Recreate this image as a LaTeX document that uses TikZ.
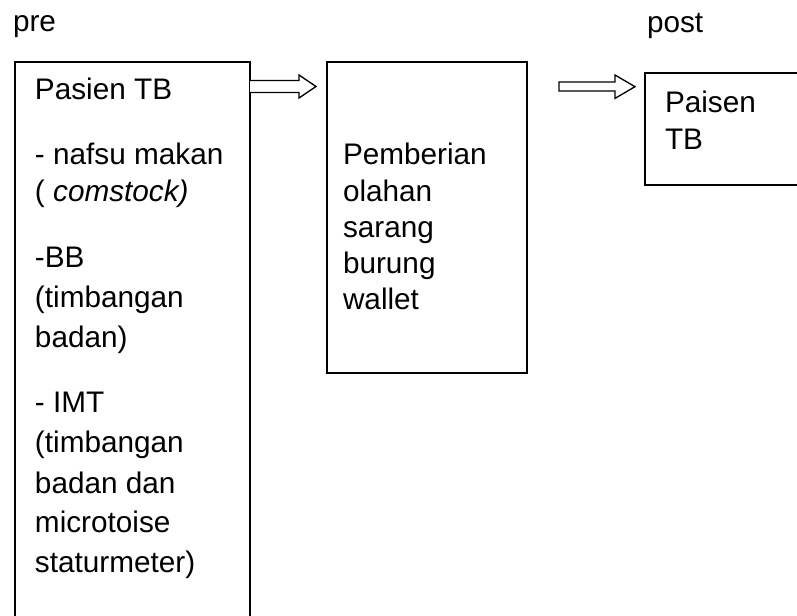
\documentclass[tikz,border=0pt]{standalone}
\usepackage{fontspec}
\setmainfont{Liberation Sans}
\begin{document}
\begin{tikzpicture}[x=0.75pt,y=-0.75pt,
  box/.style={draw, line width=1.2pt, rectangle, anchor=north west, inner sep=0, outer sep=0},
  txt/.style={anchor=base west, inner sep=0, outer sep=0, font=\fontsize{22.3}{26}\selectfont},
  arr/.style={draw, line width=1pt, fill=white, line join=miter}]
\useasboundingbox (0,0) rectangle (797,616);
\clip (0,0) rectangle (797,616);
% boxes
\node[box, minimum width=150pt, minimum height=233.25pt] (mid) at (327,62) {};
\node[box, minimum width=176.25pt, minimum height=433.5pt] (left) at (15,62) {};
\node[box, minimum width=131.25pt, minimum height=84pt] (right) at (645,73) {};
% headings
\node[txt] (pre) at (13,31.5) {pre};
\node[txt] (post) at (647,33) {post};
% left box text
\node[txt] (l1) at (35,100) {Pasien TB};
\node[txt] (l2) at (35,165) {- nafsu makan};
\node[txt] (l3) at (35,202) {( \textit{comstock)}};
\node[txt] (l4) at (35,268) {-BB};
\node[txt] (l5) at (35,308) {(timbangan};
\node[txt] (l6) at (35,348) {badan)};
\node[txt] (l7) at (35,413) {- IMT};
\node[txt] (l8) at (35,453) {(timbangan};
\node[txt] (l9) at (35,494) {badan dan};
\node[txt] (l10) at (35,533) {microtoise};
\node[txt] (l11) at (35,573) {staturmeter)};
% middle box text
\node[txt] (m1) at (343,165) {Pemberian};
\node[txt] (m2) at (343,201.5) {olahan};
\node[txt] (m3) at (343,237.5) {sarang};
\node[txt] (m4) at (343,273.5) {burung};
\node[txt] (m5) at (343,310) {wallet};
% right box text
\node[txt] (r1) at (665,113) {Paisen};
\node[txt] (r2) at (665,150) {TB};
% block arrows
\draw[arr] (left.east |- 0,80.5) -- (299,80.5) -- (299,75) -- (316,86.5) -- (299,98) -- (299,92.5) -- (left.east |- 0,92.5);
\draw[arr] (559,82) -- (615,82) -- (615,75) -- (635,86.7) -- (615,98.4) -- (615,91) -- (559,91) -- cycle;
\end{tikzpicture}
\end{document}
